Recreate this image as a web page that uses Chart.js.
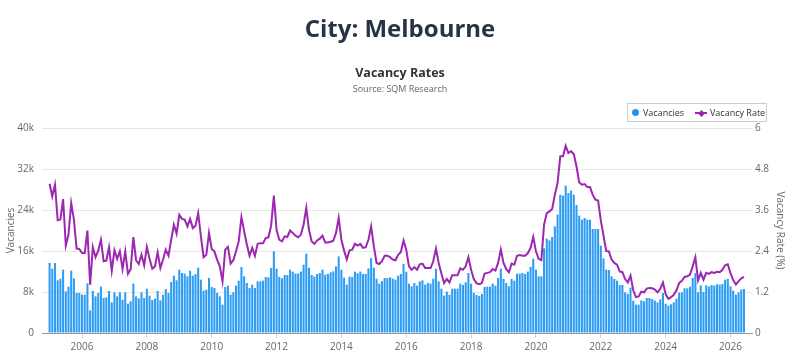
<!DOCTYPE html>
<html>
<head>
<meta charset="utf-8">
<title>City: Melbourne - Vacancy Rates</title>
<script src="https://cdn.jsdelivr.net/npm/chart.js@4.4.1/dist/chart.umd.min.js"></script>
<style>
  html, body { margin: 0; padding: 0; background: #fff; }
  body { width: 800px; height: 360px; position: relative; overflow: hidden; font-family: 'Open Sans', 'Noto Sans', sans-serif; }
  canvas { position: absolute; left: 0; top: 0; }
  .txt { position: absolute; left: 0; width: 800px; text-align: center; margin: 0; z-index: 2; }
  #city { top: 12px; font-size: 24px; line-height: 32px; font-weight: 700; color: #263445; }
  #ctitle { top: 64px; font-size: 12.5px; line-height: 18px; font-weight: 700; color: #333; }
  #csub { top: 83px; font-size: 9px; line-height: 12px; color: #666; }
  #legend { position: absolute; left: 627px; top: 103px; width: 138px; height: 17px; border: 1px solid #ccc; z-index: 2;
            font-size: 9px; line-height: 17px; color: #333; white-space: nowrap; }
  #legend span { position: absolute; top: 0; }
  .dot { position: absolute; left: 4px; top: 5px; width: 7px; height: 7px; border-radius: 50%; background: #2196f3; }
  .ln { position: absolute; left: 67px; top: 8px; width: 12px; height: 2px; background: #9c27b0; }
  .dia { position: absolute; left: 71px; top: 6.5px; width: 5px; height: 5px; background: #9c27b0; transform: rotate(45deg); }
</style>
</head>
<body>
<h1 id="city" class="txt">City: Melbourne</h1>
<div id="ctitle" class="txt">Vacancy Rates</div>
<div id="csub" class="txt">Source: SQM Research</div>
<div id="legend">
  <div class="dot"></div><span style="left:15px">Vacancies</span>
  <div class="ln"></div><div class="dia"></div><span style="left:82px">Vacancy Rate</span>
</div>
<canvas id="chart" width="800" height="360"></canvas>
<script>
// monthly series, Jan 2005 onwards
const startYear = 2005;
const yearTicks = [2006, 2008, 2010, 2012, 2014, 2016, 2018, 2020, 2022, 2024, 2026];
const vacancyTicks = [0, 8000, 16000, 24000, 32000, 40000];
const rateTicks = [0, 1.2, 2.4, 3.6, 4.8, 6];

const vacancies = [
  13660, 12550, 13660, 10280, 10600, 12360, 8130, 9040, 12160, 10670, 7800, 7800,
  7480, 7480, 9690, 4420, 8200, 7150, 7800, 9040, 6830, 6960, 8200, 5980,
  7930, 7150, 7930, 6500, 7930, 5720, 6180, 9630, 7150, 6760, 7930, 6830,
  8650, 7280, 6440, 6700, 8200, 6370, 7480, 8590, 7800, 9950, 11190, 10280,
  12360, 11710, 11580, 11060, 12160, 11190, 11510, 12750, 10410, 8260, 8460, 10730,
  8980, 8780, 7800, 7150, 5530, 8980, 9240, 7480, 7930, 9240, 10210, 12880,
  11060, 9760, 8780, 9430, 8780, 10080, 10080, 10210, 10930, 10860, 12700, 15930,
  12550, 10930, 10670, 11320, 11320, 12360, 11970, 11580, 11580, 11970, 13330, 15480,
  12750, 11320, 10990, 11510, 11710, 12360, 11380, 11510, 11840, 12030, 13010, 14960,
  12360, 10800, 9430, 10990, 10930, 11970, 11640, 11970, 11510, 11510, 12620, 14630,
  12750, 10600, 9630, 10150, 10730, 10730, 10860, 10600, 10410, 11190, 11510, 13460,
  11970, 9630, 9110, 9760, 9240, 10080, 10280, 9430, 9760, 9630, 10600, 12550,
  10080, 8650, 7280, 8070, 7480, 8650, 8650, 8650, 9630, 9370, 9890, 11710,
  9630, 7800, 7410, 7220, 7610, 8980, 9040, 9040, 9630, 9240, 10730, 12550,
  10540, 9760, 9110, 10540, 10210, 11580, 11580, 11710, 11510, 11970, 12880, 14500,
  12360, 11060, 11060, 16520, 18410, 18080, 18730, 20810, 23090, 26990, 26800, 28750,
  27320, 27770, 26990, 24980, 22890, 22110, 22440, 22110, 22110, 20290, 20290, 20290,
  17040, 14570, 12360, 12300, 11060, 10540, 10200, 9370, 9370, 7930, 7610, 8850,
  6310, 5530, 5530, 6370, 6180, 6830, 6830, 6630, 6310, 5980, 6570, 7800,
  5720, 5330, 5590, 5980, 6700, 7870, 7930, 8720, 8720, 9040, 10730, 11710,
  7930, 9300, 8000, 9300, 9040, 9370, 9240, 9500, 9430, 9560, 10410, 10540,
  9110, 8260, 7480, 7930, 8460, 8590
];

const rates = [
  4.37, 4.0, 4.34, 3.3, 3.32, 3.92, 2.56, 2.88, 3.8, 3.32, 2.47, 2.46,
  2.34, 2.34, 3.0, 1.41, 2.51, 2.22, 2.41, 2.73, 2.1, 2.12, 2.51, 1.82,
  2.42, 2.17, 2.39, 1.87, 2.39, 1.73, 1.87, 2.81, 2.13, 2.02, 2.29, 1.98,
  2.52, 2.17, 1.88, 1.95, 2.36, 1.9, 2.15, 2.44, 2.26, 2.73, 3.17, 2.91,
  3.46, 3.34, 3.32, 3.12, 3.34, 3.07, 3.14, 3.51, 2.83, 2.22, 2.29, 2.93,
  2.46, 2.39, 2.15, 1.95, 1.51, 2.44, 2.52, 2.03, 2.13, 2.39, 2.68, 3.39,
  2.98, 2.59, 2.26, 2.49, 2.26, 2.61, 2.63, 2.63, 2.78, 2.8, 3.15, 4.02,
  3.02, 2.73, 2.68, 2.83, 2.81, 3.0, 2.93, 2.85, 2.8, 2.88, 3.17, 3.66,
  3.02, 2.68, 2.61, 2.71, 2.76, 2.85, 2.65, 2.65, 2.67, 2.7, 2.93, 3.37,
  2.73, 2.41, 2.15, 2.42, 2.44, 2.61, 2.56, 2.61, 2.49, 2.51, 2.73, 3.12,
  2.54, 2.05, 2.02, 2.1, 2.26, 2.26, 2.22, 2.15, 2.13, 2.29, 2.37, 2.71,
  2.44, 1.95, 1.85, 1.93, 1.85, 2.01, 2.03, 1.9, 1.9, 1.9, 2.1, 2.47,
  2.05, 1.74, 1.46, 1.58, 1.48, 1.69, 1.69, 1.69, 1.89, 1.85, 1.95, 2.22,
  1.85, 1.58, 1.46, 1.43, 1.46, 1.74, 1.76, 1.78, 1.87, 1.83, 2.05, 2.44,
  2.05, 1.87, 1.78, 2.03, 2.0, 2.26, 2.28, 2.26, 2.26, 2.34, 2.49, 2.81,
  2.39, 2.17, 2.13, 3.17, 3.51, 3.56, 3.63, 4.05, 4.39, 5.17, 5.17, 5.48,
  5.27, 5.32, 5.24, 4.88, 4.41, 4.34, 4.36, 4.27, 4.27, 4.05, 3.9, 3.88,
  3.3, 2.85, 2.4, 2.39, 2.15, 2.05, 2.0, 1.8, 1.78, 1.58, 1.48, 1.68,
  1.25, 1.05, 1.07, 1.21, 1.19, 1.3, 1.32, 1.31, 1.27, 1.19, 1.29, 1.48,
  1.14, 1.0, 1.05, 1.12, 1.25, 1.46, 1.53, 1.64, 1.66, 1.71, 1.95, 2.22,
  1.54, 1.76, 1.56, 1.76, 1.73, 1.78, 1.76, 1.79, 1.78, 1.85, 1.98, 2.01,
  1.75, 1.55, 1.42, 1.52, 1.6, 1.64
];

// month index -> fractional year on the x axis
const toX = i => startYear + i / 12;

Chart.defaults.font.family = "'Open Sans', 'Noto Sans', sans-serif";
Chart.defaults.color = '#666';

const ctx = document.getElementById('chart').getContext('2d');
const chart = new Chart(ctx, {
  type: 'bar',
  data: {
    datasets: [
      {
        type: 'line',
        label: 'Vacancy Rate',
        data: rates.map((v, i) => ({ x: toX(i), y: v })),
        yAxisID: 'y1',
        borderColor: '#9c27b0',
        borderWidth: 2,
        pointRadius: 0,
        tension: 0,
      },
      {
        label: 'Vacancies',
        data: vacancies.map((v, i) => ({ x: toX(i), y: v })),
        yAxisID: 'y',
        backgroundColor: '#2d9cf4',
        barPercentage: 0.95,
        categoryPercentage: 0.8,
      },
    ],
  },
  options: {
    responsive: false,
    animation: false,
    layout: {
      padding: { top: 128, left: 0, right: 0, bottom: 0 },
    },
    plugins: {
      legend: { display: false },
      tooltip: { enabled: false },
    },
    scales: {
      x: {
        type: 'linear',
        offset: false,
        min: toX(-2.81),
        max: toX(259.96),
        afterBuildTicks: function(scale) {
          scale.ticks = yearTicks.map(v => ({ value: v }));
        },
        afterFit: function(scale) {
          scale.height = 27;
        },
        ticks: {
          autoSkip: false,
          maxRotation: 0,
          padding: 3,
          font: { size: 10 },
          callback: function(value) {
            return String(value);
          }
        },
        grid: {
          offset: false,
          drawOnChartArea: false,
          drawTicks: true,
          tickLength: 5,
          color: '#ccd6eb',
        },
        border: { color: '#999' },
      },
      y: {
        position: 'left',
        min: 0,
        max: 40000,
        afterBuildTicks: function(scale) {
          scale.ticks = vacancyTicks.map(v => ({ value: v }));
        },
        afterFit: function(scale) {
          scale.width = 42;
        },
        ticks: {
          padding: 8,
          font: { size: 10 },
          callback: function(value) {
            return value === 0 ? '0' : (value / 1000) + 'k';
          }
        },
        grid: {
          color: '#e6e6e6',
          drawTicks: false,
        },
        border: { display: false },
        title: {
          display: true,
          text: 'Vacancies',
          font: { size: 10 },
          padding: { top: 5, bottom: 0 },
        },
      },
      y1: {
        position: 'right',
        min: 0,
        max: 6,
        afterBuildTicks: function(scale) {
          scale.ticks = rateTicks.map(v => ({ value: v }));
        },
        afterFit: function(scale) {
          scale.width = 48;
        },
        ticks: {
          padding: 3,
          font: { size: 10 },
          callback: function(value) {
            return String(value);
          }
        },
        grid: {
          drawOnChartArea: false,
          drawTicks: false,
        },
        border: { display: false },
        title: {
          display: true,
          text: 'Vacancy Rate (%)',
          font: { size: 10 },
          padding: { top: 14, bottom: 0 },
        },
      },
    },
  },
});
</script>
</body>
</html>
